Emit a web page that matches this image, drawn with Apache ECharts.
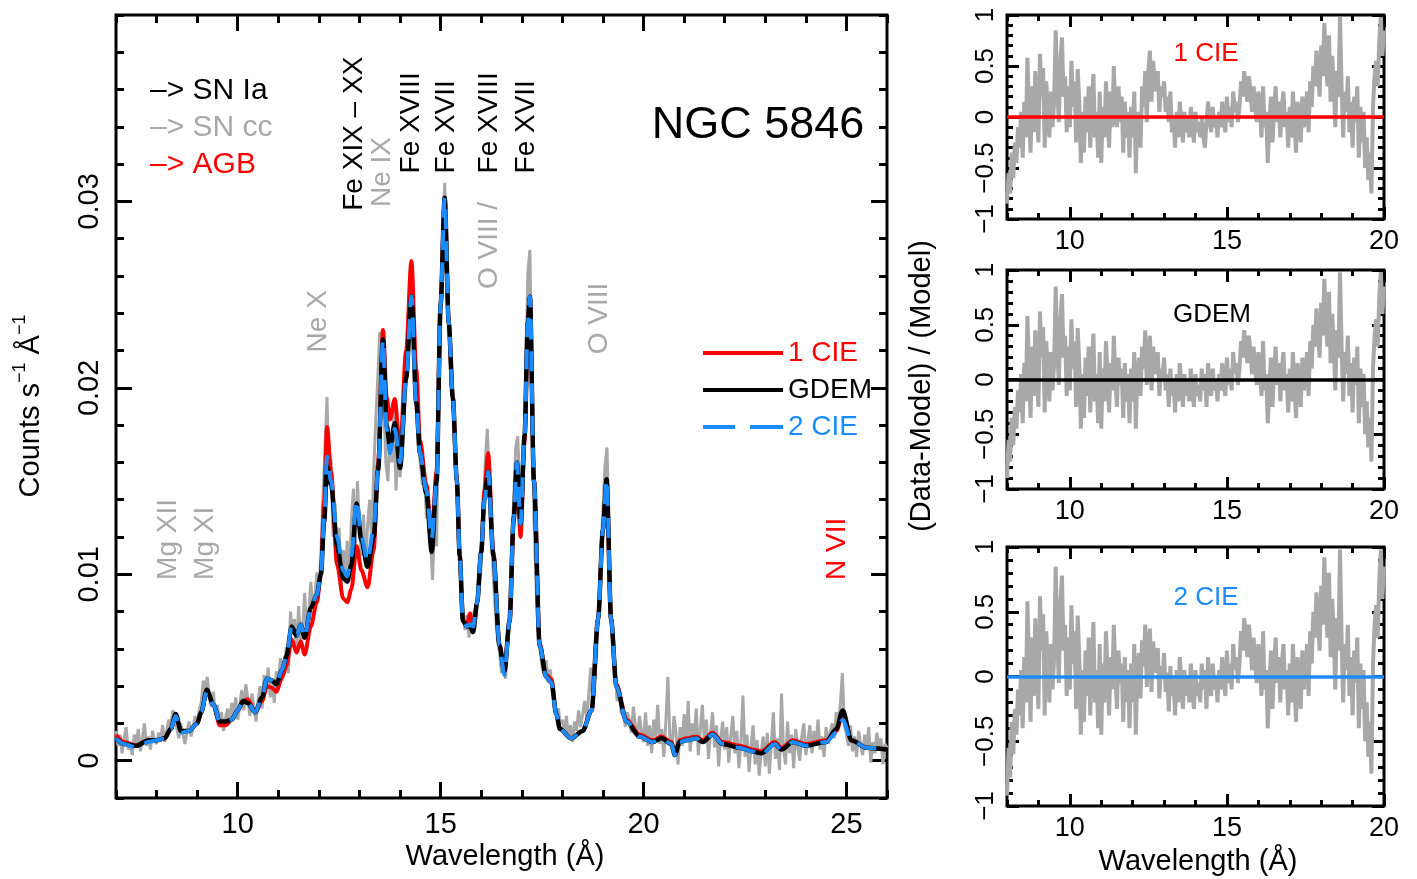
<!DOCTYPE html>
<html><head><meta charset="utf-8">
<script src="https://cdn.jsdelivr.net/npm/echarts@6/dist/echarts.min.js"></script>
<style>html,body{margin:0;padding:0;background:#fff}#c{width:1417px;height:879px}</style>
</head><body><div id="c"></div>
<script>
// ---------------- DATA ----------------
// observed spectrum: bins of 0.05 Å starting at 7.00 Å
const dataStart = 7.0, dataStep = 0.05;
const dataCounts = [
 0.0016,0.0008,0.0014,0.0004,0.0012,0.0018,0.0006,0.0010,0.0003,0.0014,0.0009,0.0017,0.0005,0.0012,0.0020,0.0008,0.0013,0.0006,0.0016,0.0011,
 0.0009,0.0015,0.0012,0.0019,0.0010,0.0016,0.0022,0.0018,0.0027,0.0024,0.0017,0.0012,0.0020,0.0014,0.0009,0.0016,0.0021,0.0013,0.0018,0.0024,
 0.0019,0.0027,0.0031,0.0043,0.0038,0.0045,0.0033,0.0029,0.0037,0.0024,0.0030,0.0019,0.0026,0.0016,0.0023,0.0028,0.0020,0.0031,0.0025,0.0034,
 0.0022,0.0030,0.0038,0.0027,0.0041,0.0033,0.0024,0.0036,0.0029,0.0021,0.0032,0.0040,0.0028,0.0046,0.0037,0.0050,0.0034,0.0044,0.0031,0.0048,
 0.0039,0.0055,0.0043,0.0052,0.0061,0.0047,0.0080,0.0068,0.0076,0.0058,0.0083,0.0063,0.0071,0.0090,0.0067,0.0079,0.0096,0.0082,0.0088,0.0101,
 0.0092,0.0112,0.0140,0.0168,0.0195,0.0150,0.0162,0.0120,0.0138,0.0108,0.0125,0.0092,0.0113,0.0102,0.0118,0.0099,0.0128,0.0146,0.0112,0.0150,
 0.0124,0.0110,0.0132,0.0104,0.0126,0.0140,0.0118,0.0155,0.0182,0.0205,0.0230,0.0215,0.0190,0.0160,0.0150,0.0175,0.0160,0.0188,0.0145,0.0170,
 0.0152,0.0165,0.0185,0.0210,0.0235,0.0262,0.0245,0.0220,0.0190,0.0170,0.0160,0.0148,0.0155,0.0130,0.0138,0.0120,0.0097,0.0128,0.0115,0.0185,
 0.0235,0.0280,0.0310,0.0275,0.0230,0.0205,0.0190,0.0175,0.0150,0.0120,0.0095,0.0082,0.0070,0.0078,0.0066,0.0080,0.0069,0.0074,0.0083,0.0092,
 0.0105,0.0135,0.0160,0.0178,0.0150,0.0128,0.0098,0.0080,0.0065,0.0058,0.0047,0.0052,0.0044,0.0060,0.0085,0.0112,0.0140,0.0168,0.0174,0.0148,
 0.0130,0.0165,0.0215,0.0262,0.0274,0.0200,0.0130,0.0095,0.0070,0.0060,0.0050,0.0046,0.0054,0.0042,0.0049,0.0038,0.0032,0.0025,0.0028,0.0020,
 0.0022,0.0015,0.0024,0.0012,0.0019,0.0010,0.0021,0.0016,0.0027,0.0018,0.0025,0.0032,0.0022,0.0036,0.0050,0.0030,0.0042,0.0060,0.0082,0.0110,
 0.0135,0.0158,0.0168,0.0120,0.0082,0.0055,0.0048,0.0032,0.0037,0.0025,0.0030,0.0018,0.0026,0.0022,0.0015,0.0029,0.0019,0.0012,0.0024,0.0016,
 0.0010,0.0026,0.0008,0.0019,0.0004,0.0022,0.0013,0.0030,0.0009,0.0017,0.0002,0.0021,0.0045,0.0012,0.0006,0.0024,0.0015,-0.0002,0.0018,0.0008,
 0.0025,0.0011,0.0032,0.0005,0.0020,0.0014,0.0028,0.0003,0.0017,0.0030,0.0009,0.0022,0.0001,0.0015,0.0026,0.0007,0.0019,-0.0003,0.0012,0.0021,
 0.0006,0.0018,-0.0001,0.0013,0.0024,0.0004,0.0016,-0.0004,0.0010,0.0035,0.0002,0.0014,-0.0006,0.0008,0.0019,-0.0002,0.0011,-0.0008,0.0005,0.0013,
 -0.0003,0.0015,-0.0007,0.0009,0.0026,0.0001,0.0012,-0.0005,0.0036,0.0006,-0.0002,0.0021,0.0004,0.0014,-0.0004,0.0017,0.0007,0.0000,0.0013,0.0020,
 0.0003,0.0011,0.0019,0.0004,0.0016,0.0008,0.0022,0.0006,0.0013,0.0002,0.0018,0.0009,0.0015,0.0020,0.0012,0.0026,0.0021,0.0030,0.0047,0.0019,
 0.0014,0.0008,0.0019,0.0005,0.0013,0.0002,0.0016,0.0009,0.0003,0.0014,0.0007,0.0018,-0.0001,0.0010,0.0004,0.0015,0.0006,0.0012,-0.0002,0.0009,
 0.0007
];
// model curves sampled at these wavelengths (Å)
const modelWave = [
 7.0,7.2,7.5,7.8,8.0,8.2,8.35,8.47,8.6,8.8,
 9.0,9.1,9.24,9.4,9.56,9.7,9.85,10.0,10.13,10.25,
 10.43,10.6,10.72,10.85,10.95,11.1,11.2,11.33,11.45,11.55,
 11.65,11.8,11.95,12.05,12.13,12.2,12.3,12.45,12.6,12.7,
 12.8,12.93,13.05,13.2,13.35,13.46,13.58,13.67,13.75,13.87,
 14.0,14.15,14.28,14.4,14.49,14.65,14.78,14.9,15.0,15.1,
 15.2,15.3,15.4,15.47,15.55,15.65,15.72,15.8,15.9,16.0,
 16.08,16.17,16.3,16.45,16.57,16.7,16.8,16.88,16.97,17.07,
 17.15,17.2,17.3,17.44,17.6,17.73,17.85,17.94,18.22,18.5,
 18.72,18.88,19.0,19.09,19.2,19.33,19.58,19.9,20.23,20.44,
 20.69,20.77,20.89,21.06,21.3,21.46,21.7,21.95,22.37,22.7,
 22.9,23.23,23.4,23.68,24.0,24.5,24.75,24.91,25.12,25.49,
 26.0
];
const model1CIE = [
 0.0014,0.0010,0.0008,0.0011,0.0011,0.0012,0.0017,0.0025,0.0016,0.0016,
 0.0020,0.0026,0.0038,0.0030,0.0019,0.0019,0.0022,0.0027,0.0032,0.0033,
 0.0026,0.0032,0.0040,0.0039,0.0037,0.0045,0.0051,0.0065,0.0058,0.0064,
 0.0057,0.0072,0.0085,0.0100,0.0140,0.0179,0.0155,0.0105,0.0087,0.0085,
 0.0092,0.0115,0.0102,0.0093,0.0113,0.0160,0.0231,0.0195,0.0183,0.0194,
 0.0166,0.0220,0.0268,0.0210,0.0172,0.0148,0.0121,0.0155,0.0245,0.0302,
 0.0235,0.0195,0.0150,0.0110,0.0075,0.0073,0.0079,0.0071,0.0085,0.0112,
 0.0145,0.0165,0.0112,0.0062,0.0048,0.0075,0.0128,0.0158,0.0120,0.0172,
 0.0235,0.0249,0.0150,0.0063,0.0046,0.0044,0.0025,0.0017,0.0012,0.0016,
 0.0027,0.0076,0.0124,0.0151,0.0076,0.0041,0.0022,0.0014,0.0011,0.0013,
 0.0010,0.0004,0.0011,0.0012,0.0013,0.0011,0.0015,0.0010,0.0008,0.0006,
 0.0005,0.0010,0.0007,0.0011,0.0009,0.0011,0.0016,0.0025,0.0011,0.0007,
 0.0006
];
const modelGDEM = [
 0.0012,0.0009,0.0008,0.0011,0.0011,0.0012,0.0017,0.0025,0.0016,0.0016,
 0.0020,0.0026,0.0038,0.0030,0.0021,0.0021,0.0022,0.0027,0.0032,0.0031,
 0.0026,0.0034,0.0044,0.0043,0.0041,0.0049,0.0056,0.0072,0.0067,0.0073,
 0.0066,0.0082,0.0089,0.0100,0.0128,0.0158,0.0148,0.0115,0.0098,0.0096,
 0.0105,0.0138,0.0118,0.0104,0.0120,0.0156,0.0226,0.0180,0.0168,0.0181,
 0.0157,0.0205,0.0249,0.0192,0.0165,0.0143,0.0112,0.0150,0.0245,0.0302,
 0.0235,0.0195,0.0150,0.0110,0.0075,0.0072,0.0072,0.0069,0.0085,0.0112,
 0.0140,0.0155,0.0110,0.0062,0.0048,0.0075,0.0130,0.0160,0.0127,0.0175,
 0.0235,0.0249,0.0150,0.0062,0.0045,0.0042,0.0025,0.0017,0.0012,0.0016,
 0.0027,0.0076,0.0124,0.0151,0.0076,0.0040,0.0021,0.0013,0.0010,0.0012,
 0.0009,0.0003,0.0010,0.0011,0.0012,0.0010,0.0014,0.0009,0.0007,0.0005,
 0.0004,0.0009,0.0006,0.0010,0.0008,0.0010,0.0017,0.0027,0.0011,0.0007,
 0.0006
];
const model2CIE = [
 0.0012,0.0009,0.0007,0.0010,0.0011,0.0012,0.0017,0.0024,0.0015,0.0016,
 0.0020,0.0026,0.0037,0.0030,0.0021,0.0021,0.0022,0.0027,0.0032,0.0031,
 0.0026,0.0034,0.0044,0.0043,0.0041,0.0049,0.0056,0.0072,0.0067,0.0073,
 0.0066,0.0082,0.0089,0.0100,0.0130,0.0163,0.0150,0.0120,0.0102,0.0099,
 0.0110,0.0140,0.0120,0.0107,0.0125,0.0156,0.0226,0.0178,0.0165,0.0178,
 0.0160,0.0205,0.0249,0.0192,0.0165,0.0145,0.0119,0.0150,0.0245,0.0302,
 0.0235,0.0195,0.0150,0.0110,0.0075,0.0072,0.0073,0.0072,0.0085,0.0112,
 0.0140,0.0155,0.0110,0.0062,0.0046,0.0075,0.0130,0.0160,0.0127,0.0175,
 0.0235,0.0249,0.0150,0.0062,0.0045,0.0042,0.0025,0.0017,0.0012,0.0016,
 0.0027,0.0076,0.0124,0.0151,0.0076,0.0040,0.0021,0.0013,0.0010,0.0012,
 0.0009,0.0003,0.0010,0.0011,0.0012,0.0010,0.0014,0.0009,0.0007,0.0005,
 0.0003,0.0009,0.0006,0.0010,0.0008,0.0010,0.0015,0.0022,0.0011,0.0007,
 0.0006
];
// residuals (Data-Model)/Model, bins of 0.05 Å starting at 8.00 Å
const residStart = 8.0, residStep = 0.05;
const resid1CIE = [
 -0.85,-0.55,-0.75,-0.35,-0.60,-0.25,-0.45,-0.10,-0.30,0.05,-0.40,0.15,-0.20,0.58,0.10,-0.35,0.30,-0.15,0.45,0.05,
 -0.25,0.62,0.20,0.48,-0.30,0.35,0.05,-0.20,0.25,-0.10,0.15,0.85,0.30,-0.05,0.55,0.78,0.20,0.40,-0.15,0.30,
 -0.10,0.55,0.10,0.35,-0.25,0.47,0.15,-0.45,0.05,-0.35,0.20,-0.15,0.30,-0.30,0.10,0.42,-0.20,0.05,-0.40,0.25,
 -0.45,0.10,-0.20,0.35,0.05,-0.30,0.25,-0.10,0.50,0.00,-0.10,0.30,-0.05,0.20,-0.35,0.15,-0.20,0.05,-0.40,0.10,
 -0.20,0.25,-0.55,0.05,0.05,-0.30,0.30,0.10,0.45,-0.05,0.45,0.65,0.15,0.55,0.35,0.25,0.45,0.05,0.30,0.20,
 0.35,0.05,0.20,-0.05,0.25,-0.15,0.00,-0.30,0.05,-0.20,0.15,-0.05,-0.25,0.05,-0.15,0.00,-0.20,0.10,-0.10,-0.25,
 0.05,-0.15,-0.05,-0.20,0.00,-0.20,-0.30,-0.05,0.15,-0.05,-0.15,0.10,-0.10,0.00,-0.20,0.05,-0.10,0.15,-0.05,-0.15,
 0.20,-0.05,0.10,-0.10,0.25,0.05,0.15,-0.05,0.10,0.35,0.20,0.45,0.30,0.15,0.40,0.25,0.05,0.30,0.10,-0.05,
 0.25,0.10,-0.20,0.30,-0.10,0.05,-0.45,-0.10,0.20,-0.25,0.05,0.30,-0.05,0.15,-0.20,0.10,0.25,-0.10,0.05,-0.30,
 0.10,-0.20,0.25,-0.05,-0.35,0.15,0.00,-0.25,0.20,-0.10,0.05,0.25,-0.15,0.35,0.10,0.50,0.30,0.65,0.45,0.20,
 0.70,0.40,0.92,0.55,0.30,0.80,0.15,0.60,0.35,-0.10,0.45,0.20,0.98,0.30,-0.20,0.25,0.05,0.40,-0.15,0.15,
 -0.30,0.20,-0.05,0.30,-0.40,0.10,-0.25,0.05,-0.50,-0.20,-0.62,-0.35,-0.75,0.10,0.40,0.55,0.30,0.75,0.98,0.60,
 0.85
];
const residGDEM = [
 -0.90,-0.55,-0.75,-0.35,-0.60,-0.25,-0.45,-0.10,-0.30,0.05,-0.40,0.15,-0.20,0.58,0.10,-0.35,0.30,-0.15,0.45,0.05,
 -0.25,0.62,0.20,0.48,-0.30,0.35,0.05,-0.20,0.25,-0.10,0.15,0.85,0.30,-0.05,0.55,0.78,0.20,0.40,-0.15,0.30,
 -0.10,0.55,0.10,0.35,-0.25,0.47,0.15,-0.45,0.05,-0.35,0.20,-0.15,0.30,-0.30,0.10,0.42,-0.20,0.05,-0.40,0.25,
 -0.45,0.10,-0.20,0.35,0.05,-0.30,0.15,-0.10,0.40,0.00,-0.25,0.20,-0.05,0.10,-0.35,0.15,-0.20,0.05,-0.40,0.10,
 -0.20,0.25,-0.45,0.05,0.20,-0.15,0.30,0.10,0.45,-0.05,0.25,0.40,-0.10,0.30,0.15,0.05,0.25,-0.15,0.10,0.00,
 0.20,-0.10,0.05,-0.25,0.10,-0.15,0.00,-0.30,0.05,-0.20,0.15,-0.05,-0.25,0.05,-0.15,0.00,-0.20,0.10,-0.10,-0.25,
 0.05,-0.15,-0.05,-0.20,0.10,-0.10,0.05,-0.25,0.15,-0.05,-0.15,0.10,-0.10,0.00,-0.20,0.05,-0.10,0.15,-0.05,-0.15,
 0.20,-0.05,0.10,-0.10,0.25,0.05,0.15,-0.05,0.10,0.35,0.20,0.45,0.30,0.15,0.40,0.25,0.05,0.30,0.10,-0.05,
 0.25,0.10,-0.15,0.35,-0.10,0.05,-0.40,-0.10,0.20,-0.25,0.05,0.30,-0.05,0.15,-0.20,0.10,0.25,-0.10,0.05,-0.30,
 0.10,-0.20,0.25,-0.05,-0.35,0.15,0.00,-0.25,0.20,-0.10,0.05,0.25,-0.15,0.35,0.10,0.50,0.30,0.65,0.45,0.20,
 0.70,0.40,0.92,0.55,0.30,0.80,0.15,0.60,0.35,-0.10,0.45,0.20,0.98,0.30,-0.20,0.25,0.05,0.40,-0.15,0.15,
 -0.30,0.20,-0.05,0.30,-0.40,0.10,-0.25,0.05,-0.50,-0.20,-0.62,-0.35,-0.75,0.10,0.40,0.55,0.30,0.75,0.98,0.60,
 0.85
];
const resid2CIE = [
 -0.92,-0.55,-0.78,-0.35,-0.60,-0.25,-0.45,-0.10,-0.30,0.05,-0.40,0.15,-0.20,0.58,0.10,-0.35,0.30,-0.15,0.45,0.05,
 -0.25,0.62,0.20,0.48,-0.30,0.35,0.05,-0.20,0.25,-0.10,0.15,0.85,0.30,-0.05,0.55,0.78,0.20,0.40,-0.15,0.30,
 -0.10,0.55,0.10,0.35,-0.25,0.47,0.15,-0.45,0.05,-0.35,0.20,-0.15,0.30,-0.30,0.10,0.42,-0.20,0.05,-0.40,0.25,
 -0.45,0.10,-0.20,0.35,0.05,-0.30,0.15,-0.10,0.40,0.00,-0.25,0.20,-0.05,0.10,-0.35,0.15,-0.20,0.05,-0.40,0.10,
 -0.20,0.25,-0.45,0.05,0.18,-0.17,0.28,0.08,0.40,-0.08,0.22,0.37,-0.12,0.27,0.12,0.03,0.22,-0.17,0.08,-0.02,
 0.18,-0.12,0.03,-0.27,0.08,-0.15,0.00,-0.30,0.05,-0.20,0.15,-0.05,-0.25,0.05,-0.15,0.00,-0.20,0.10,-0.10,-0.25,
 0.05,-0.15,-0.05,-0.20,0.10,-0.10,0.05,-0.25,0.15,-0.05,-0.15,0.10,-0.10,0.00,-0.20,0.05,-0.10,0.15,-0.05,-0.15,
 0.20,-0.05,0.10,-0.10,0.25,0.05,0.15,-0.05,0.10,0.35,0.20,0.45,0.30,0.15,0.40,0.25,0.05,0.30,0.10,-0.05,
 0.25,0.10,-0.15,0.35,-0.10,0.05,-0.40,-0.10,0.20,-0.25,0.05,0.30,-0.05,0.15,-0.20,0.10,0.25,-0.10,0.05,-0.30,
 0.10,-0.20,0.25,-0.05,-0.35,0.15,0.00,-0.25,0.20,-0.10,0.05,0.25,-0.15,0.35,0.10,0.50,0.30,0.65,0.45,0.20,
 0.70,0.40,0.92,0.55,0.30,0.80,0.15,0.60,0.35,-0.10,0.45,0.20,0.98,0.30,-0.20,0.25,0.05,0.40,-0.15,0.15,
 -0.30,0.20,-0.05,0.30,-0.40,0.10,-0.25,0.05,-0.50,-0.20,-0.62,-0.35,-0.75,0.10,0.40,0.55,0.30,0.75,0.98,0.60,
 0.85
];
// tick labels
const mainXTicks = [10, 15, 20, 25];
const mainYTicks = [0, 0.01, 0.02, 0.03];
const residXTicks = [10, 15, 20];
const residYTicks = [-1, -0.5, 0, 0.5, 1];
const modelNames = ['1 CIE', 'GDEM', '2 CIE'];
// line identifications: text, wavelength, height of text start (counts)
const lineIds = [
 {t:'Fe XIX \u2013 XX', w:12.86, v:0.0295, c:'black'},
 {t:'Ne IX', w:13.56, v:0.0297, c:'gray'},
 {t:'Fe XVIII', w:14.27, v:0.0315, c:'black'},
 {t:'Fe XVII', w:15.15, v:0.0315, c:'black'},
 {t:'Fe XVIII', w:16.19, v:0.0315, c:'black'},
 {t:'Fe XVII', w:17.11, v:0.0315, c:'black'},
 {t:'O VIII /', w:16.19, v:0.0253, c:'gray'},
 {t:'Ne X', w:11.98, v:0.0219, c:'gray'},
 {t:'O VIII', w:18.92, v:0.0218, c:'gray'},
 {t:'Mg XII', w:8.28, v:0.0097, c:'gray'},
 {t:'Mg XI', w:9.19, v:0.0097, c:'gray'},
 {t:'N VII', w:24.78, v:0.0097, c:'red'}
];

// ---------------- STYLE ----------------
const FONT = '"Liberation Sans", Arial, Helvetica, sans-serif';
const RED = '#ff0000', BLUE = '#1a8cff', GRAY = '#a8a8a8', BLACK = '#000000';
const COLORS = {black: BLACK, gray: GRAY, red: RED};

const mainGrid = {left:116, top:15, width:771, height:783};
const residGrids = [
 {left:1007, top:15, width:377, height:204},
 {left:1007, top:270, width:377, height:219},
 {left:1007, top:547, width:377, height:259}
];

function axisSet(dim, gridIndex, min, max, minorInterval, majorVals, labelOpt, majorLen, minorLen) {
  const sides = dim === 'x' ? ['bottom', 'top'] : ['left', 'right'];
  const out = [];
  sides.forEach((pos, si) => {
    out.push({
      type:'value', gridIndex, position:pos, min, max, offset:0,
      axisLine:{show:false, onZero:false}, splitLine:{show:false},
      axisTick:{show:true, inside:true, length:majorLen, customValues:majorVals, lineStyle:{color:BLACK, width:3}},
      axisLabel: si === 0 ? Object.assign({show:true, customValues:majorVals, color:BLACK, fontFamily:FONT}, labelOpt) : {show:false}
    });
    out.push({
      type:'value', gridIndex, position:pos, min, max, interval:minorInterval, offset:0,
      axisLine:{show:false, onZero:false}, splitLine:{show:false},
      axisTick:{show:true, inside:true, length:minorLen, lineStyle:{color:BLACK, width:3}},
      axisLabel:{show:false}
    });
  });
  return out;
}

const xAxes = [], yAxes = [];
xAxes.push(...axisSet('x', 0, 7, 26, 1, mainXTicks, {fontSize:29, margin:12}, 16, 8));
yAxes.push(...axisSet('y', 0, -0.002, 0.040, 0.002, mainYTicks,
  {fontSize:29, rotate:90, margin:12, formatter: v => v === 0 ? '0' : v.toFixed(2)}, 16, 8));
residGrids.forEach((g, i) => {
  xAxes.push(...axisSet('x', i + 1, 8, 20, 1, residXTicks, {fontSize:27, margin:9}, 12, 6));
  yAxes.push(...axisSet('y', i + 1, -1, 1, 0.1, residYTicks,
    {fontSize:26, rotate:90, margin:8, formatter: v => v === 0 ? '0' : (v < 0 ? '\u2212' : '') + Math.abs(v)}, 12, 6));
});

const obsPoints = dataCounts.map((v, i) => [dataStart + i * dataStep, v]);
const pairs = arr => modelWave.map((w, i) => [w, arr[i]]);
const residPts = arr => arr.map((v, i) => [residStart + i * residStep, v]);

const series = [
  {name:'data', type:'line', xAxisIndex:0, yAxisIndex:0, data:obsPoints, showSymbol:false, symbol:'none',
   lineStyle:{color:GRAY, width:3}, z:1, silent:true},
  {name:modelNames[0], type:'line', xAxisIndex:0, yAxisIndex:0, data:pairs(model1CIE), symbol:'none', smooth:0.3, smoothMonotone:'x',
   lineStyle:{color:RED, width:4}, itemStyle:{color:RED}, z:2},
  {name:modelNames[1], type:'line', xAxisIndex:0, yAxisIndex:0, data:pairs(modelGDEM), symbol:'none', smooth:0.3, smoothMonotone:'x',
   lineStyle:{color:BLACK, width:4.5}, itemStyle:{color:BLACK}, z:3},
  {name:modelNames[2], type:'line', xAxisIndex:0, yAxisIndex:0, data:pairs(model2CIE), symbol:'none', smooth:0.3, smoothMonotone:'x',
   lineStyle:{color:BLUE, width:4, type:[20, 12]}, itemStyle:{color:BLUE}, z:4}
];
const residSets = [resid1CIE, residGDEM, resid2CIE];
const residColors = [RED, BLACK, BLUE];
residSets.forEach((arr, i) => {
  series.push({name:'resid ' + modelNames[i], type:'line', xAxisIndex:4 * (i + 1), yAxisIndex:4 * (i + 1),
    data:residPts(arr), symbol:'none', lineStyle:{color:GRAY, width:4}, silent:true,
    markLine:{silent:true, symbol:'none', label:{show:false}, animation:false,
      lineStyle:{color:residColors[i], width:3.5, type:'solid'}, data:[{yAxis:0}]}});
});

const grids = [mainGrid, ...residGrids].map(g => Object.assign({show:true, borderColor:BLACK, borderWidth:3, backgroundColor:'transparent'}, g));

const chart = echarts.init(document.getElementById('c'), null, {renderer:'canvas'});
chart.setOption({
  animation:false,
  backgroundColor:'#ffffff',
  grid:grids, xAxis:xAxes, yAxis:yAxes, series,
  legend:{
    orient:'vertical', left:698, top:334, itemWidth:80, itemHeight:4, itemGap:9,
    selectedMode:false, textStyle:{fontSize:28, fontFamily:FONT},
    data:[
      {name:modelNames[0], icon:'rect', textStyle:{color:RED}},
      {name:modelNames[1], icon:'rect', textStyle:{color:BLACK}},
      {name:modelNames[2], icon:'path://M0,0h32v4h-32zM47,0h33v4h-33z', textStyle:{color:BLUE}}
    ]
  }
});

// text annotations
const T = (x, y, text, color, size, extra) => Object.assign({type:'text', x, y, silent:true, z:50,
  style:{text, fill:color, font:size + 'px ' + FONT, textAlign:'center', textVerticalAlign:'middle'}}, extra || {});
const graphics = [];
lineIds.forEach(d => {
  const x = chart.convertToPixel({xAxisIndex:0}, d.w);
  const y = chart.convertToPixel({yAxisIndex:0}, d.v);
  graphics.push({type:'text', x, y, rotation:Math.PI / 2, silent:true, z:50,
    style:{text:d.t, fill:COLORS[d.c], font:'28px ' + FONT, textAlign:'left', textVerticalAlign:'middle'}});
});
graphics.push(T(758, 126, 'NGC 5846', BLACK, 45));
graphics.push({type:'text', x:150, y:91, silent:true, style:{text:'\u2013> SN Ia', fill:BLACK, font:'30px ' + FONT, textVerticalAlign:'middle'}});
graphics.push({type:'text', x:150, y:128, silent:true, style:{text:'\u2013> SN cc', fill:GRAY, font:'30px ' + FONT, textVerticalAlign:'middle'}});
graphics.push({type:'text', x:150, y:165, silent:true, style:{text:'\u2013> AGB', fill:RED, font:'30px ' + FONT, textVerticalAlign:'middle'}});
graphics.push(T(1206, 54, '1 CIE', RED, 26));
graphics.push(T(1212, 315, 'GDEM', BLACK, 26));
graphics.push(T(1206, 598, '2 CIE', BLUE, 26));
graphics.push(T(505, 857, 'Wavelength (\u00c5)', BLACK, 29));
graphics.push(T(1198, 862, 'Wavelength (\u00c5)', BLACK, 29));
graphics.push(T(922, 386, '(Data-Model) / (Model)', BLACK, 29, {rotation:Math.PI / 2}));
graphics.push({type:'text', x:28, y:406, rotation:Math.PI / 2, silent:true,
  style:{text:'{n|Counts s}{s|\u22121}{n| \u00c5}{s|\u22121}', textAlign:'center', textVerticalAlign:'middle',
    rich:{n:{fontSize:29, fontFamily:FONT, fill:BLACK, lineHeight:34, verticalAlign:'bottom'},
          s:{fontSize:18, fontFamily:FONT, fill:BLACK, lineHeight:34, verticalAlign:'top'}}}});
chart.setOption({graphic:graphics});
</script></body></html>
